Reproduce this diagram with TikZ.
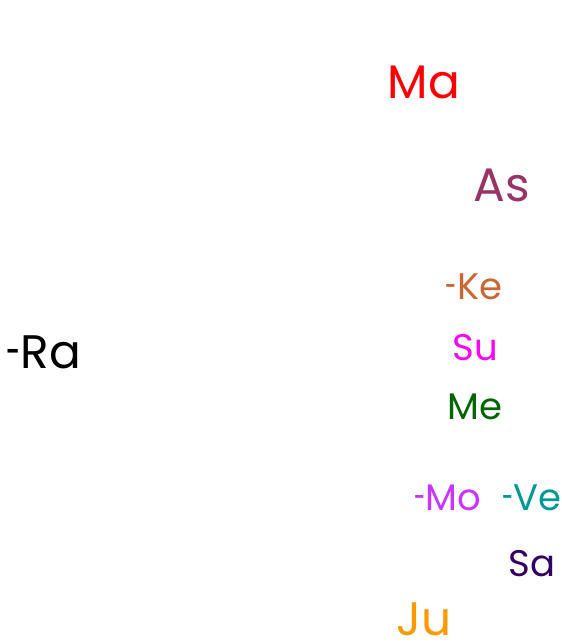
\documentclass[tikz,border=0pt]{standalone}
\usepackage{fontspec}
\setmainfont{Poppins}
\newcommand\hy{\scalebox{0.55}[1]{-}}
\definecolor{cMa}{HTML}{FF0000}
\definecolor{cAs}{HTML}{993366}
\definecolor{cKe}{HTML}{CC6633}
\definecolor{cSu}{HTML}{FF00FF}
\definecolor{cMe}{HTML}{006600}
\definecolor{cMo}{HTML}{CC33FF}
\definecolor{cVe}{HTML}{009999}
\definecolor{cSa}{HTML}{330066}
\definecolor{cJu}{HTML}{FF9900}
\tikzset{
  lbl/.style={anchor=base, inner sep=0pt, outer sep=0pt},
  big/.style={lbl, font=\fontsize{47}{47}\selectfont},
  mid/.style={lbl, font=\fontsize{37}{37}\selectfont}
}
\begin{document}
\begin{tikzpicture}[x=1pt,y=1pt]
\useasboundingbox (0,0) rectangle (562,-643);
\node[big, text=cMa] (ma) at (424,-98) {Ma};
\node[big, text=cAs] (as) at (502,-201) {As};
\node[mid, text=cKe] (ke) at (474,-299) {\hy Ke};
\node[mid, text=cSu] (su) at (475,-360) {Su};
\node[mid, text=cMe] (me) at (475,-419) {Me};
\node[mid, text=cMo] (mo) at (448,-510) {\hy Mo};
\node[mid, text=cVe] (ve) at (532,-510) {\hy Ve};
\node[mid, text=cSa] (sa) at (532,-576) {Sa};
\node[big, text=cJu] (ju) at (424,-635) {Ju};
\node[big, text=black] (ra) at (44,-368) {\hy Ra};
\end{tikzpicture}
\end{document}
